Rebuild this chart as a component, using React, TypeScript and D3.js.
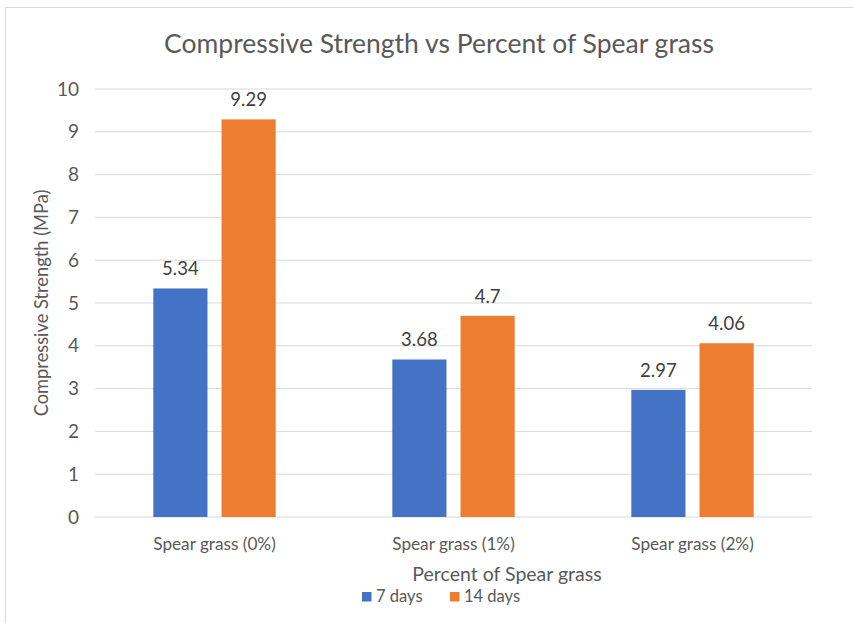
import React, { useEffect } from 'react';
import * as d3 from 'd3';

const categories = ['Spear grass (0%)', 'Spear grass (1%)', 'Spear grass (2%)'];
const seriesNames = ['7 days', '14 days'];
const days7 = [5.34, 3.68, 2.97];
const days14 = [9.29, 4.7, 4.06];
const yTicks = [0, 1, 2, 3, 4, 5, 6, 7, 8, 9, 10];

const colors = ['#4472C4', '#ED7D31'];
const FONT = 'Lato, "Open Sans", sans-serif';

const App = () => {
  useEffect(() => {
    document.body.style.margin = '0';
  }, []);

  const width = 853;
  const height = 623;
  const margin = { top: 89, right: 41, bottom: 106, left: 95 };

  const x0 = d3.scaleBand<string>()
    .domain(categories)
    .range([margin.left, width - margin.right])
    .padding(0);
  const x1 = d3.scaleBand<string>()
    .domain(seriesNames)
    .range([0, x0.bandwidth()])
    .paddingInner(0.206)
    .paddingOuter(0.855);
  const y = d3.scaleLinear().domain([0, 10]).range([height - margin.bottom, margin.top]);

  const rows = categories.map((c, i) => ({ cat: c, vals: [days7[i], days14[i]] }));

  return (
    <svg width={width} height={height} style={{ display: 'block', background: '#fff' }} fontFamily={FONT}>
      <rect x={5.5} y={7.5} width={width + 10} height={height + 10} fill="#fff" stroke="#d9d9d9" />
      <text x={439} y={53} textAnchor="middle" fontSize={26.5} fill="#595959">
        Compressive Strength vs Percent of Spear grass
      </text>

      {yTicks.map(t => (
        <g key={t}>
          <line x1={margin.left} x2={width - margin.right} y1={y(t)} y2={y(t)} stroke="#d9d9d9" strokeWidth={1} />
          <text x={79} y={y(t)} dy="0.35em" textAnchor="end" fontSize={19} fill="#595959">{t}</text>
        </g>
      ))}

      {rows.map(r => (
        <g key={r.cat} transform={`translate(${x0(r.cat)},0)`}>
          {r.vals.map((v, j) => (
            <g key={seriesNames[j]}>
              <rect x={x1(seriesNames[j])} y={y(v)} width={x1.bandwidth()} height={y(0) - y(v)} fill={colors[j]} />
              <text x={(x1(seriesNames[j]) ?? 0) + x1.bandwidth() / 2} y={y(v) - 13} textAnchor="middle" fontSize={18.5} fill="#404040">
                {String(v)}
              </text>
            </g>
          ))}
          <text x={x0.bandwidth() / 2} y={550} textAnchor="middle" fontSize={17.2} fill="#595959">{r.cat}</text>
        </g>
      ))}

      <text transform={`translate(48,${(y(0) + y(10)) / 2}) rotate(-90)`} textAnchor="middle" fontSize={18.3} fill="#595959">
        Compressive Strength (MPa)
      </text>
      <text x={507} y={581} textAnchor="middle" fontSize={19.5} fill="#595959">Percent of Spear grass</text>

      {seriesNames.map((s, i) => {
        const lx = [362, 450][i];
        return (
          <g key={s}>
            <rect x={lx} y={592} width={9.5} height={9.5} fill={colors[i]} />
            <text x={lx + 14} y={601.5} fontSize={16.5} fill="#595959">{s}</text>
          </g>
        );
      })}
    </svg>
  );
};

export default App;
